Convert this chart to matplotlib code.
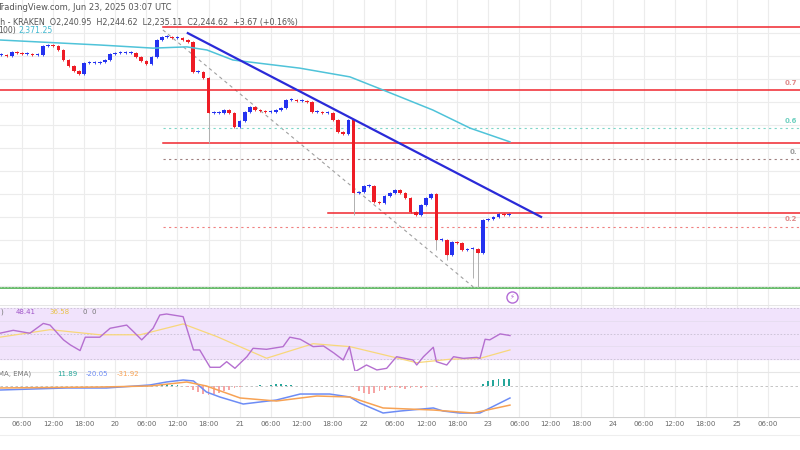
import numpy as np
import matplotlib
matplotlib.use("Agg")
import matplotlib.pyplot as plt

# ---------------- data (hours since Jun 19 00:00 UTC) ----------------
start_hour = 2
closes = [2502, 2500, 2507, 2505, 2504, 2504, 2502, 2502, 2516, 2518, 2516, 2510,
          2494, 2484, 2476, 2472, 2489, 2489, 2489, 2491, 2494, 2504, 2505, 2505,
          2505, 2505, 2499, 2492, 2488, 2499, 2526, 2531, 2531, 2529, 2529, 2526,
          2523, 2475, 2475, 2465, 2409, 2409, 2409, 2414, 2409, 2387, 2396, 2411,
          2419, 2414, 2412, 2411, 2411, 2414, 2417, 2430, 2430, 2428, 2428, 2427,
          2411, 2411, 2409, 2409, 2398, 2379, 2376, 2398, 2281, 2283, 2292, 2292,
          2267, 2265, 2276, 2281, 2286, 2281, 2273, 2251, 2246, 2262, 2273, 2280,
          2206, 2206, 2182, 2203, 2201, 2190, 2192, 2192, 2185, 2238, 2240, 2243,
          2248, 2246, 2246]
wick_hours = [42, 70, 86, 88, 93, 94]
wick_lows = [2361, 2246, 2190, 2174, 2145, 2131]

ma_hours = [1.7, 21.0, 31.3, 37.8, 41.7, 46.7, 59.6, 69.3, 75.7, 79.0, 85.3, 92.5, 100.2]
ma_vals = [2526, 2518, 2513, 2515, 2510, 2494, 2481, 2467, 2446, 2435, 2414, 2385, 2363]

trend_hours = [38.0, 106.2]
trend_prices = [2537, 2243]
gray_hours = [33.2, 93.1]
gray_prices = [2542, 2131]

red_levels = [2547, 2446, 2361, 2249]
red_starts = [33.2, 0, 33.2, 65.1]
dotted_levels = [2385, 2336, 2227]
dotted_colors = ["#7fd6c8", "#a08080", "#f08080"]
green_level = 2129
fib_labels = ["0.7", "0.6", "0.", "0.2"]
fib_prices = [2457, 2396, 2347, 2240]
fib_colors = ["#e08a8a", "#6fd0c0", "#999999", "#e08a8a"]

rsi_hours = [1.7, 4.3, 7.5, 10.1, 11.4, 14.0, 15.3, 17.2, 18.2, 21.0, 23.0, 26.2, 27.5,
             29.1, 31.3, 32.6, 33.9, 37.1, 39.1, 40.3, 42.3, 44.2, 45.5, 47.1, 49.4,
             50.6, 53.2, 56.4, 57.7, 59.7, 62.2, 64.2, 66.1, 68.0, 69.2, 70.3, 72.5,
             74.5, 76.4, 78.3, 81.5, 82.2, 83.5, 85.4, 86.0, 88.0, 89.3, 91.2, 93.8,
             94.4, 95.4, 96.3, 98.3, 100.2]
rsi_vals = [50.2, 52.5, 50.2, 57.9, 56.6, 45.0, 41.1, 36.6, 47.1, 47.1, 54.1, 56.6, 51.5,
            45.0, 54.1, 64.5, 65.3, 63.2, 37.1, 37.1, 23.5, 23.5, 27.9, 22.7, 31.8,
            38.4, 37.6, 39.7, 47.1, 45.5, 39.7, 40.2, 35.0, 29.2, 39.7, 20.1, 25.3,
            21.4, 22.7, 31.8, 29.2, 25.3, 31.8, 39.2, 27.9, 25.3, 31.8, 30.5, 31.3,
            30.5, 45.5, 45.0, 49.7, 48.41]
rsima_hours = [1.7, 11.4, 21.0, 28.8, 37.1, 43.6, 53.2, 62.2, 69.3, 82.2, 88.6, 94.4, 100.2]
rsima_vals = [47.1, 53.0, 49.0, 49.0, 57.5, 47.6, 30.6, 42.0, 39.7, 27.1, 29.8, 30.5, 37.1]

macd_hours = [1.7, 14.6, 22.3, 30.7, 33.9, 37.1, 39.1, 41.6, 44.2, 48.7, 55.1, 59.7, 65.4,
              69.3, 71.2, 75.7, 79.0, 85.4, 87.3, 90.5, 94.4, 100.2]
macd_vals = [-6.7, -3.3, -3.3, 1.7, 6.7, 10.0, 8.4, -10.0, -18.4, -30.1, -23.4, -13.4, -13.4,
             -18.4, -28.4, -45.1, -41.8, -36.7, -41.8, -45.1, -45.1, -20.05]
signal_hours = [1.7, 21.0, 30.7, 37.8, 41.6, 48.1, 55.1, 62.9, 69.3, 75.7, 85.4, 93.1, 100.2]
signal_vals = [-3.3, -1.7, 0.0, 6.7, 0.0, -20.0, -25.1, -16.7, -18.4, -36.7, -40.1, -45.1, -31.92]
hist_hours = [33, 34, 35, 36, 38, 39, 40, 41, 42, 43, 44, 45, 46, 47, 48, 52, 54, 55, 56, 57,
              58, 70, 71, 72, 73, 74, 75, 76, 77, 78, 79, 80, 81, 82, 83, 84, 86, 95, 96, 97,
              98, 99, 100]
hist_vals = [2, 3, 2, 1, -2, -6, -10, -14, -15, -13, -12, -9, -7, -4, -2, 1, 2, 3, 3, 2,
             1, -2, -9, -12, -13, -11, -8, -6, -4, -2, -3, -5, -4, -2, -3, -2, -1, 4, 8, 10,
             11, 12, 11.89]

tick_hours = list(range(6, 156, 6))
day_labels = {24: "20", 48: "21", 72: "22", 96: "23", 120: "24", 144: "25"}
tick_labels = [day_labels.get(h, ["00:00", "06:00", "12:00", "18:00"][(h % 24) // 6]) for h in tick_hours]

# ---------------- figure ----------------
W, H = 800, 450
fig = plt.figure(figsize=(8, 4.5), dpi=100)
fig.patch.set_facecolor("white")
def px_axes(top, bottom):
    return fig.add_axes([0, 1 - bottom / H, 1, (bottom - top) / H])

xmin, xmax = 1.74, 156.2
ax = px_axes(0, 305)
ax_rsi = px_axes(305, 371)
ax_m = px_axes(371, 417)
ax_t = px_axes(417, 450)

grid_c = "#ececec"
for a in (ax, ax_rsi, ax_m, ax_t):
    a.set_xlim(xmin, xmax)
    for s in a.spines.values():
        s.set_visible(False)
    a.set_xticks([]); a.set_yticks([])
for a in (ax, ax_rsi, ax_m):
    for h in tick_hours:
        a.axvline(h, color=grid_c, lw=0.8, zorder=0)

# price panel
ax.set_ylim(2590 - 1.6 * 305, 2590)
for p in np.arange(2537.2, 2100, -36.8):
    ax.axhline(p, color=grid_c, lw=0.8, zorder=0)

hours = np.arange(start_hour, start_hour + len(closes))
opens = [closes[0]] + closes[:-1]
for h, o, c in zip(hours, opens, closes):
    col = "#2432f0" if c >= o else "#ee1c25"
    lo, hi = min(o, c), max(o, c)
    if hi - lo < 1.5:
        hi = lo + 1.5
    ax.bar(h, hi - lo, bottom=lo, width=0.7, color=col, zorder=4)
    ax.vlines(h, lo - 1.5, hi + 1.5, color=col, lw=0.6, zorder=3)
for h, l in zip(wick_hours, wick_lows):
    i = h - start_hour
    ax.vlines(h, l, min(opens[i], closes[i]), color="#b0b0b0", lw=0.7, zorder=3)

ax.plot(ma_hours, ma_vals, color="#4fc3d9", lw=1.1, zorder=5)
ax.plot(trend_hours, trend_prices, color="#2a2ad8", lw=1.6, zorder=6)
ax.plot(gray_hours, gray_prices, color="#a0a0a0", lw=0.8, ls=(0, (3, 3)), zorder=2)
for lvl, st in zip(red_levels, red_starts):
    ax.plot([st, xmax], [lvl, lvl], color="#f0262e", lw=1.1, zorder=2)
for lvl, c in zip(dotted_levels, dotted_colors):
    ax.plot([33.2, xmax], [lvl, lvl], color=c, lw=0.8, ls=(0, (2, 3)), zorder=2)
ax.axhline(green_level, color="#4caf50", lw=1.2, zorder=2)
ax.axhline(green_level + 1.6, color="#a5d6a7", lw=0.6, ls=(0, (2, 2)), zorder=2)
for t, p, c in zip(fib_labels, fib_prices, fib_colors):
    ax.text(xmax - 0.5, p, t, color=c, fontsize=5, ha="right", va="center", fontweight="bold")
ax.plot([100.5], [2115], marker="o", ms=8, mfc="white", mec="#b36bd6", mew=1, zorder=7)
ax.text(100.5, 2115, "⚡", color="#b36bd6", fontsize=5, ha="center", va="center", zorder=8)

# header texts
fig.text(-0.004, 1 - 7 / H, "TradingView.com, Jun 23, 2025 03:07 UTC", fontsize=6,
         color="#555555", va="center")
fig.text(-0.004, 1 - 22 / H, "th - KRAKEN  O2,240.95  H2,244.62  L2,235.11  C2,244.62  +3.67 (+0.16%)",
         fontsize=5.8, color="#555555", va="center")
fig.text(-0.002, 1 - 31 / H, "100)", fontsize=5.6, color="#555555", va="center")
fig.text(0.023, 1 - 31 / H, "2,371.25", fontsize=5.6, color="#40b8d0", va="center")

# RSI panel
ax_rsi.set_ylim(70 - (371 - 308) * 40 / 51, 70 + 3 * 40 / 51)
ax_rsi.axhspan(30, 70, color="#f1e3fc", zorder=0)
for lv in (30, 70, 50):
    ax_rsi.axhline(lv, color="#c9c0d4", lw=0.6, ls=(0, (2, 2)))
for lv in (60, 40):
    ax_rsi.axhline(lv, color="#e6dcef", lw=0.6)
ax_rsi.axhline(72.2, color="#e6e6e6", lw=0.8)
ax_rsi.plot(rsima_hours, rsima_vals, color="#f8d77a", lw=0.9, zorder=3)
ax_rsi.plot(rsi_hours, rsi_vals, color="#b56fd0", lw=1.0, zorder=4)
fig.text(0.0, 1 - 312 / H, ")", fontsize=5, color="#777777", va="center")
fig.text(0.02, 1 - 312 / H, "48.41", fontsize=5, color="#a055c8", va="center")
fig.text(0.062, 1 - 312 / H, "36.58", fontsize=5, color="#e8c24a", va="center")
fig.text(0.104, 1 - 312 / H, "0  0", fontsize=5, color="#777777", va="center")

# MACD panel
ax_m.set_ylim(-(417 - 386) * 1.67, (386 - 371) * 1.67)
ax_m.axhline(0, color="#bbbbbb", lw=0.6, ls=(0, (3, 3)))
ax_m.axhline(24, color="#e6e6e6", lw=0.8)
hcols = ["#26a69a" if v > 0 else "#f6a5a5" for v in hist_vals]
ax_m.bar(hist_hours, hist_vals, width=0.35, color=hcols, zorder=2)
ax_m.plot(macd_hours, macd_vals, color="#6d8cf5", lw=1.1, zorder=3)
ax_m.plot(signal_hours, signal_vals, color="#f7a254", lw=1.1, zorder=4)
fig.text(-0.002, 1 - 374 / H, "MA, EMA)", fontsize=5, color="#777777", va="center")
fig.text(0.072, 1 - 374 / H, "11.89", fontsize=5, color="#26a69a", va="center")
fig.text(0.107, 1 - 374 / H, "-20.05", fontsize=5, color="#6d8cf5", va="center")
fig.text(0.146, 1 - 374 / H, "-31.92", fontsize=5, color="#f7a254", va="center")

# time axis
ax_t.set_ylim(0, 1)
ax_t.axhline(1, color="#d0d0d0", lw=1.5)
ax_t.axhline(0.45, color="#eeeeee", lw=0.8)
for h, lab in zip(tick_hours, tick_labels):
    ax_t.text(h, 0.78, lab, fontsize=5, color="#666666", ha="center", va="center")

fig.savefig("out.png", dpi=100)
